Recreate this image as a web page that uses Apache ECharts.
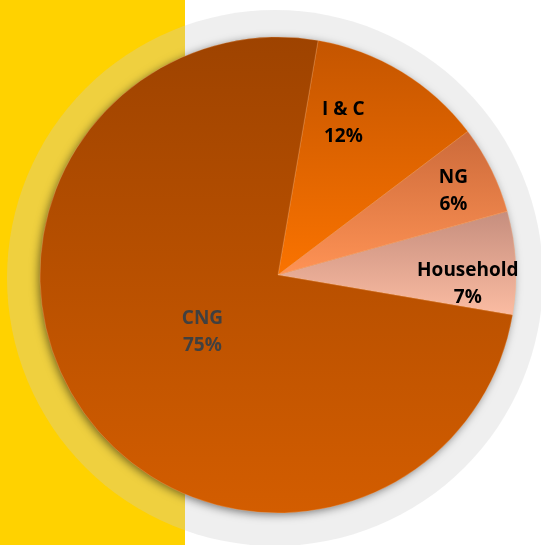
<!DOCTYPE html>
<html>
<head>
<meta charset="utf-8">
<script src="https://cdn.jsdelivr.net/npm/echarts@6/dist/echarts.min.js"></script>
<style>
  html, body { margin: 0; padding: 0; background: #fff; }
  #chart { width: 541px; height: 545px; }
</style>
</head>
<body>
<div id="chart"></div>
<script>
// 各用途占比（顺时针，从 I & C 开始）
const categories = ['I & C', 'NG', 'Household', 'CNG']
const shares = [12, 6, 7, 75]
// 每块的上下渐变色
const topColors = ['#C45500', '#CC6A3A', '#C68E7E', '#9E4300']
const bottomColors = ['#FA7300', '#FF9355', '#FBBCA2', '#D35D00']
// 标签微调
const labelOffsets = [[2, -48], [66, -30], [68, 15], [24, -13]]
const labelColors = ['#000', '#000', '#000', '#404040']

const chart = echarts.init(document.getElementById('chart'))

const option = {
  backgroundColor: '#fff',
  graphic: [
    // 左侧黄色条
    { type: 'rect', z: -10, shape: { x: 0, y: 0, width: 185, height: 545 }, style: { fill: '#FFD200' } },
    // 外圈浅灰色光环
    { type: 'circle', z: -9, shape: { cx: 275, cy: 278, r: 268 }, style: { fill: 'rgba(204,204,204,0.31)' } },
    // 饼图阴影
    {
      type: 'circle', z: -8, shape: { cx: 278, cy: 275, r: 237 },
      style: { fill: '#B85000', shadowBlur: 10, shadowColor: 'rgba(0,0,0,0.55)', shadowOffsetX: -2, shadowOffsetY: 2 }
    }
  ],
  series: [
    {
      type: 'pie',
      center: [278, 275],
      radius: 238,
      startAngle: 80.3,
      clockwise: true,
      animation: false,
      silent: true,
      labelLine: { show: false },
      itemStyle: {
        borderColor: 'rgba(255,190,140,0.45)',
        borderWidth: 0.6
      },
      label: {
        show: true,
        position: 'inside',
        fontFamily: 'Open Sans',
        fontWeight: 'bold',
        fontSize: 19,
        lineHeight: 27,
        formatter: (p) => p.name + '\n' + p.value + '%'
      },
      data: categories.map((name, i) => ({
        name: name,
        value: shares[i],
        itemStyle: {
          color: new echarts.graphic.LinearGradient(0, 0, 0, 1, [
            { offset: 0, color: topColors[i] },
            { offset: 1, color: bottomColors[i] }
          ])
        },
        label: { offset: labelOffsets[i], color: labelColors[i] }
      }))
    }
  ]
}
chart.setOption(option)
</script>
</body>
</html>
